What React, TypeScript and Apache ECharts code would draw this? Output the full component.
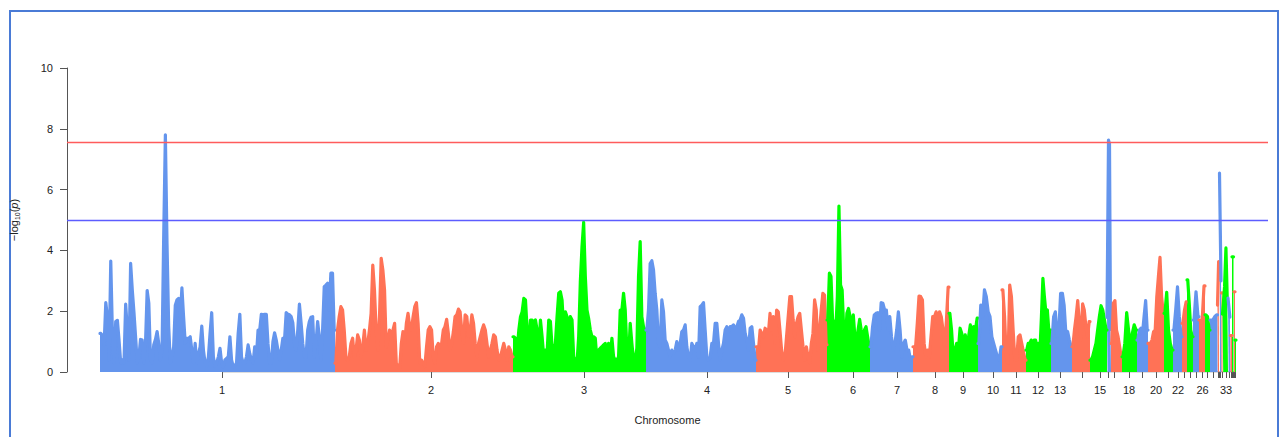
import React, { useEffect, useRef } from "react";
import * as echarts from "echarts";

// Chromosome lengths (Mb)
const chromLengths = [
  235, 178, 133, 110, 71, 43, 43, 36, 29, 24, 24, 25, 21, 18, 17, 4, 11, 15, 11, 16,
  9, 9, 5, 6, 6, 6, 5, 7.5, 1.5, 0.5, 2, 1, 5.5, 2.5, 1.5, 1.5, 0.5, 1, 1,
];

// Tick (median SNP) position of each chromosome, cumulative Mb
const tickPositions = [
  122, 331, 484, 607, 688, 753, 797, 835, 863, 893, 916, 938, 960, 982, 1000, 1008,
  1014, 1029, 1042, 1056, 1068, 1078, 1084.5, 1090, 1096, 1102.5, 1107.5, 1113.5,
  1118.3, 1119.3, 1120.5, 1122, 1126, 1129.2, 1131.2, 1132.7, 1133.7, 1134.5, 1135.5,
];

const labeledChroms = [1, 2, 3, 4, 5, 6, 7, 8, 9, 10, 11, 12, 13, 15, 18, 20, 22, 26, 33];

// -log10(p) envelope along each chromosome
const chr1 = [
  1.27, 1.2, 0.9, 2.28, 1.8, 0.4, 3.65, 1.27, 0.3, 1.66,
  1.7, 1.05, 0.3, 0.4, 0.3, 2.23, 1.4, 0.4, 3.57, 2.7,
  1.98, 1.16, 0.3, 0.5, 1.07, 1.05, 0.3, 0.94, 2.68, 2.26,
  0.4, 0.3, 0.9, 1.07, 1.33, 0.94, 0.4, 0.72, 4.5, 7.8,
  4.2, 1.5, 0.3, 0.5, 0.83, 2.2, 2.37, 2.42, 1.82, 2.77,
  1.82, 0.94, 1.11, 1.1, 1.16, 0.72, 0.3, 0.94, 0.3, 0.6,
  0.83, 1.51, 0.72, 0.3, 0.2, 0.5, 1.27, 1.95, 0.5, 0.18,
  0.3, 0.5, 0.78, 0.3, 0.18, 0.4, 0.45, 0.5, 1.16, 0.4,
  0.18, 0.2, 0.3, 1.27, 1.9, 0.5, 0.3, 0.3, 0.5, 0.89,
  0.6, 0.4, 0.3, 0.83, 0.5, 1.38, 1.38, 1.9, 1.88, 1.9,
  1.9, 0.94, 0.3, 0.3, 1.0, 1.29, 1.05, 0.72, 0.4, 0.72,
  1.11, 1.05, 1.95, 1.9, 1.88, 1.82, 1.62, 0.94, 0.72, 1.38,
  2.23, 1.62, 0.94, 0.5, 0.5, 1.38, 1.66, 1.8, 1.82, 0.5,
  0.94, 1.66, 1.16, 0.4, 1.38, 2.81, 2.86, 2.92, 2.04, 3.25,
  3.25, 1.38,
];
const chr2 = [
  0.29, 1.38, 1.82, 2.15, 2.04, 1.38, 0.5, 0.39, 0.5, 0.94,
  1.11, 0.5, 0.72, 1.22, 1.05, 0.5, 0.83, 1.38, 0.72, 0.94,
  1.38, 1.93, 3.52, 2.7, 1.38, 0.72, 1.82, 3.74, 3.36, 2.7,
  0.83, 1.05, 1.38, 1.16, 1.38, 1.6, 0.29, 0.18, 0.12, 0.94,
  1.33, 0.94, 1.6, 1.93, 1.49, 1.38, 1.82, 2.15, 2.28, 1.6,
  0.29, 0.39, 0.29, 0.18, 0.83, 1.38, 1.49, 1.38, 0.5, 0.29,
  0.83, 0.94, 0.83, 0.94, 1.38, 1.49, 1.73, 1.27, 0.72, 0.94,
  1.33, 1.82, 1.88, 2.07, 1.98, 1.38, 0.94, 1.88, 1.82, 1.16,
  1.38, 1.88, 1.6, 0.94, 0.5, 0.94, 1.16, 1.38, 1.55, 1.38,
  0.94, 0.5, 0.72, 0.94, 1.22, 1.16, 0.72, 0.39, 0.5, 0.72,
  0.94, 0.72, 0.39, 0.83, 0.72, 0.5,
];
const chr3 = [
  1.16, 1.11, 0.72, 1.38, 1.82, 1.98, 2.42, 2.37, 1.38, 0.83,
  1.71, 1.71, 1.6, 1.71, 1.38, 0.72, 1.71, 1.16, 0.5, 0.72,
  0.61, 1.71, 1.66, 0.83, 0.72, 0.94, 1.82, 2.59, 2.64, 2.37,
  1.38, 1.98, 1.82, 1.38,
  1.82, 1.71, 0.5, 0.39, 0.29, 1.16, 2.97, 4.12, 4.92, 3.14,
  2.04, 1.76, 1.38, 1.16, 1.16, 1.11, 0.39, 0.72, 0.78, 0.83,
  0.89, 0.94, 0.5, 0.94, 0.5, 1.11, 0.5, 0.39, 0.39, 0.5,
  2.04, 2.04, 2.59, 2.04, 0.72, 0.39, 1.6, 0.94, 0.39, 0.39,
  0.78, 3.14, 4.29, 1.82, 1.49, 1.38,
];
const chr4 = [
  1.38, 2.04, 3.57, 3.66, 3.36, 2.59, 2.04, 0.94, 0.83, 2.37,
  1.98, 1.05, 0.94, 0.72, 0.5, 0.72, 0.61, 0.72, 1.0, 0.72,
  0.94, 1.33, 1.38, 1.55, 0.83, 0.5, 0.39, 0.94, 0.83, 0.72,
  0.94, 0.5, 2.15, 2.2, 2.28, 1.38, 0.5, 0.39, 0.5, 0.94,
  0.94, 1.6, 1.6, 0.94, 0.39, 0.72, 0.94, 1.38, 1.49, 1.33,
  1.49, 1.49, 1.55, 1.44, 1.49, 1.66, 1.71, 1.88, 1.77, 1.27,
  1.05, 0.72, 1.44, 1.49, 0.94, 0.39,
];
const chr5 = [
  0.83, 0.72, 1.38, 1.27, 1.16, 1.44, 1.38, 1.27, 1.93, 1.38,
  1.82, 0.94, 2.04, 1.98, 1.38, 0.72, 0.39, 0.5, 1.16, 1.82,
  2.48, 2.48, 1.71, 1.16, 1.6, 1.82, 1.93,
  1.38, 0.83, 0.39, 0.83, 0.5, 0.29, 0.94, 1.27, 2.37, 2.04,
  0.72, 1.38, 2.04, 2.59, 2.53, 0.9,
];
const chr6 = [
  1.71, 3.25, 3.14, 1.71, 1.66, 1.38, 2.48, 5.46, 2.86, 2.7,
  1.38, 0.94, 1.93, 2.09, 1.82, 0.94, 1.88, 1.16, 0.94, 1.38,
  1.73, 1.38, 1.16, 1.38, 1.49, 1.16, 0.83,
];
const chr7 = [
  0.83, 1.49, 1.88, 1.93, 1.95, 1.38, 2.28, 2.26, 2.04, 2.04,
  1.38, 1.82, 1.16, 0.72, 0.94, 1.38, 1.98, 1.38, 0.5, 0.94,
  1.05, 0.72, 0.72, 0.39, 0.5,
];
const chr8 = [
  0.83, 0.83, 1.6, 2.5, 2.48, 2.37, 0.94, 0.5, 0.72, 0.5,
  1.16, 1.82, 1.82, 1.98, 1.6, 1.98, 1.82, 1.38, 0.83, 1.71, 2.79,
];
const chr9 = [1.93, 1.38, 0.5, 0.72, 0.94, 0.72, 1.44, 1.27, 0.5, 1.22, 0.94, 1.16, 1.55, 1.38, 1.49, 1.38, 1.77];
const chr10 = [0.94, 2.2, 1.82, 2.7, 2.48, 1.98, 1.82, 1.16, 0.94, 0.72, 0.5, 0.39, 0.83];
const chr11 = [2.7, 1.82, 0.5, 0.29, 2.86, 2.48, 1.38, 0.39, 0.39, 1.16, 1.22, 0.94, 0.67, 0.39];
const chr12 = [0.72, 0.94, 0.94, 1.05, 0.94, 1.05, 1.05, 0.83, 0.94, 0.72, 1.82, 3.08, 2.48, 1.98, 2.04, 1.38, 1.38];
const chr13 = [0.94, 1.82, 1.98, 1.16, 1.38, 2.59, 2.59, 2.2, 1.27, 1.33, 1.05, 0.83];
const chr14 = [0.83, 1.38, 1.82, 2.35, 1.6, 1.05, 2.24, 2.04, 1.49, 1.16, 1.66];
const chr15 = [0.39, 0.5, 0.72, 0.94, 1.38, 1.82, 2.18, 2.04, 1.71, 1.38];
const chr16 = [1.8, 7.63, 7.5, 1.4];
const chr17 = [0.94, 2.26, 2.35, 1.38, 1.16, 0.83, 0.5];
const chr18 = [0.5, 0.94, 1.95, 1.38, 0.83, 1.27, 1.55, 1.38];
const chr19 = [1.05, 1.38, 1.44, 1.27, 1.82, 2.35, 1.38];
const chr20 = [0.94, 0.94, 1.05, 1.33, 1.38, 2.48, 3.14, 3.77, 2.48, 1.98];
const chr21 = [1.93, 2.62, 1.38, 0.94, 0.72];
const chr22 = [1.38, 2.04, 2.8, 1.82, 1.16];
const chr23 = [1.6, 2.04, 2.31];
const chr24 = [3.03, 2.26, 1.38, 1.16];
const chr25 = [1.71, 2.64, 1.82];
const chr26 = [1.71, 1.6, 2.83];
const chr27 = [1.88, 1.82, 1.38];
const chr28 = [1.71, 1.71, 1.82, 1.88];
const chr29 = [2.2, 3.63];
const chr30 = [2.0];
const chr31 = [6.54, 3.0];
const chr32 = [2.6];
const chr33 = [1.9, 2.8, 4.08, 2.3];
const chr34 = [2.43, 1.8];
const chr35 = [1.2];
const chr36 = [3.79];
const chr37 = [1.5];
const chr38 = [2.64];
const chr39 = [1.05];

const chromValues = [
  chr1, chr2, chr3, chr4, chr5, chr6, chr7, chr8, chr9, chr10, chr11, chr12, chr13,
  chr14, chr15, chr16, chr17, chr18, chr19, chr20, chr21, chr22, chr23, chr24, chr25,
  chr26, chr27, chr28, chr29, chr30, chr31, chr32, chr33, chr34, chr35, chr36, chr37,
  chr38, chr39,
];

const chromColors = ["#6495ED", "#FF7256", "#00FF00"];
const genomeWideLine = 7.57;
const suggestiveLine = 5;

const FONT = "'Liberation Sans', Arial, Helvetica, sans-serif";

export default function App() {
  const ref = useRef<HTMLDivElement>(null);

  useEffect(() => {
    const chart = echarts.init(ref.current!, null, { renderer: "svg" });
    const series: any[] = [];
    let start = 0;
    chromValues.forEach((vals, ci) => {
      const len = chromLengths[ci];
      const color = chromColors[ci % 3];
      const pts = vals.map((v, i) => [start + ((i + 0.5) * len) / vals.length, v]);
      // close the chromosome at its two ends, carrying the edge reading
      const data = [[start, vals[0]], ...pts, [start + len, vals[vals.length - 1]]];
      series.push({
        type: "line",
        data,
        symbol: "none",
        silent: true,
        z: 3,
        lineStyle: { color, width: 3.2, join: "round", cap: "round" },
        areaStyle: { color, opacity: 1 },
      });
      start += len;
    });

    // R-style x axis line, from the first to the last tick
    series.push({
      type: "line",
      data: [
        [tickPositions[0], 0],
        [tickPositions[tickPositions.length - 1], 0],
      ],
      symbol: "none",
      silent: true,
      z: 1,
      lineStyle: { color: "#777", width: 1 },
    });

    // threshold lines
    series.push({
      type: "line",
      data: [],
      silent: true,
      z: 10,
      markLine: {
        silent: true,
        symbol: "none",
        label: { show: false },
        data: [
          { yAxis: genomeWideLine, lineStyle: { color: "#ff5c5c", width: 1.3, type: "solid" } },
          { yAxis: suggestiveLine, lineStyle: { color: "#5c5cff", width: 1.3, type: "solid" } },
        ],
      },
    });

    const labeledValues = labeledChroms.map((c) => tickPositions[c - 1]);

    chart.setOption({
      animation: false,
      backgroundColor: "transparent",
      grid: { left: 67, right: 17, top: 68, bottom: 65, containLabel: false },
      xAxis: {
        type: "value",
        min: -33,
        max: 1168,
        name: "Chromosome",
        nameLocation: "middle",
        nameGap: 42,
        nameTextStyle: { fontFamily: FONT, fontSize: 11, color: "#222" },
        axisLine: { show: false, onZero: false },
        splitLine: { show: false },
        axisTick: {
          show: true,
          length: 6,
          customValues: tickPositions,
          lineStyle: { color: "#555", width: 1 },
        },
        axisLabel: {
          customValues: labeledValues,
          margin: 12,
          fontFamily: FONT,
          fontSize: 11,
          color: "#222",
          formatter: (v: number) => {
            const idx = tickPositions.findIndex((t) => Math.abs(t - v) < 1e-6);
            return idx >= 0 ? String(idx + 1) : "";
          },
        },
      },
      yAxis: {
        type: "value",
        min: 0,
        max: 10,
        interval: 2,
        name: "{a|−log}{s|10}{a|(}{i|p}{a|)}",
        nameLocation: "middle",
        nameGap: 46,
        nameRotate: 90,
        nameTextStyle: {
          fontFamily: FONT,
          color: "#222",
          rich: {
            a: { fontFamily: FONT, fontSize: 11, color: "#222", lineHeight: 14, verticalAlign: "middle" },
            s: { fontFamily: FONT, fontSize: 7, color: "#222", lineHeight: 14, verticalAlign: "bottom", padding: [6, 0, 0, 0] },
            i: { fontFamily: FONT, fontSize: 11, fontStyle: "italic", color: "#222", lineHeight: 14, verticalAlign: "middle" },
          },
        },
        axisLine: { show: true, onZero: false, lineStyle: { color: "#555", width: 1 } },
        axisTick: { show: true, length: 7, lineStyle: { color: "#555", width: 1 } },
        splitLine: { show: false },
        axisLabel: { margin: 14, fontFamily: FONT, fontSize: 11, color: "#222" },
      },
      series,
    });

    return () => chart.dispose();
  }, []);

  return (
    <div style={{ position: "fixed", left: 0, top: 0, width: 1285, height: 437, background: "#fff", overflow: "hidden" }}>
      <div
        style={{
          position: "absolute",
          left: 9,
          top: 10,
          width: 1270,
          height: 460,
          border: "2px solid #4a7bd6",
          boxSizing: "border-box",
        }}
      />
      <div ref={ref} style={{ position: "absolute", left: 0, top: 0, width: 1285, height: 437 }} />
    </div>
  );
}
